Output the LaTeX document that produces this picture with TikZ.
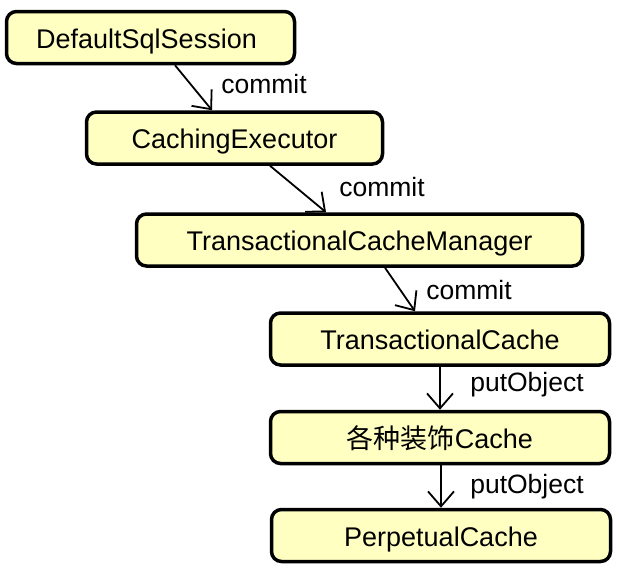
\documentclass[tikz,border=0pt]{standalone}
\usepackage{fontspec}
\setmainfont{Liberation Sans}
\newfontfamily\cjk{Noto Sans CJK SC}
\usetikzlibrary{arrows.meta}
\definecolor{boxfill}{RGB}{255,255,194}
\tikzset{
  box/.style={draw=black, fill=boxfill, line width=3.5pt, rounded corners=10pt,
    minimum height=52pt, inner sep=0pt, text height=23pt, text depth=2pt,
    font=\fontsize{27}{30}\selectfont},
  lbl/.style={inner sep=0pt, font=\fontsize{26.5}{30}\selectfont},
  conn/.style={line width=1.8pt, -{Straight Barb[length=15pt, width=26pt, line width=1.8pt]}}
}
\begin{document}
\begin{tikzpicture}[x=1pt, y=-1pt]
\useasboundingbox (0,0) rectangle (621,571);
\node[box, minimum width=288pt] (b1) at (150.5,37.5) {DefaultSqlSession\hspace*{8pt}};
\node[box, minimum width=296pt] (b2) at (234.5,138) {CachingExecutor};
\node[box, minimum width=446pt] (b3) at (359.5,240) {TransactionalCacheManager};
\node[box, minimum width=339pt] (b4) at (440,339) {TransactionalCache};
\node[box, minimum width=339pt] (b5) at (440,437.5) {{\cjk 各种装饰}Cache};
\node[box, minimum width=339pt] (b6) at (441,535.5) {PerpetualCache};

\draw[conn] (b1.south -| 175,0) -- (b2.north -| 212,0);
\draw[conn] (b2.south -| 270,0) -- (b3.north -| 326,0);
\draw[conn] (b3.south -| 385,0) -- (b4.north -| 415,0);
\draw[conn] (b4.south -| 440,0) -- (b5.north -| 440,0);
\draw[conn] (b5.south -| 441,0) -- (b6.north -| 441,0);

\node[lbl] (l1) at (264,84) {commit};
\node[lbl] (l2) at (382,187) {commit};
\node[lbl] (l3) at (469,290) {commit};
\node[lbl] (l4) at (527,385) {putObject};
\node[lbl] (l5) at (527,487) {putObject};
\end{tikzpicture}
\end{document}
